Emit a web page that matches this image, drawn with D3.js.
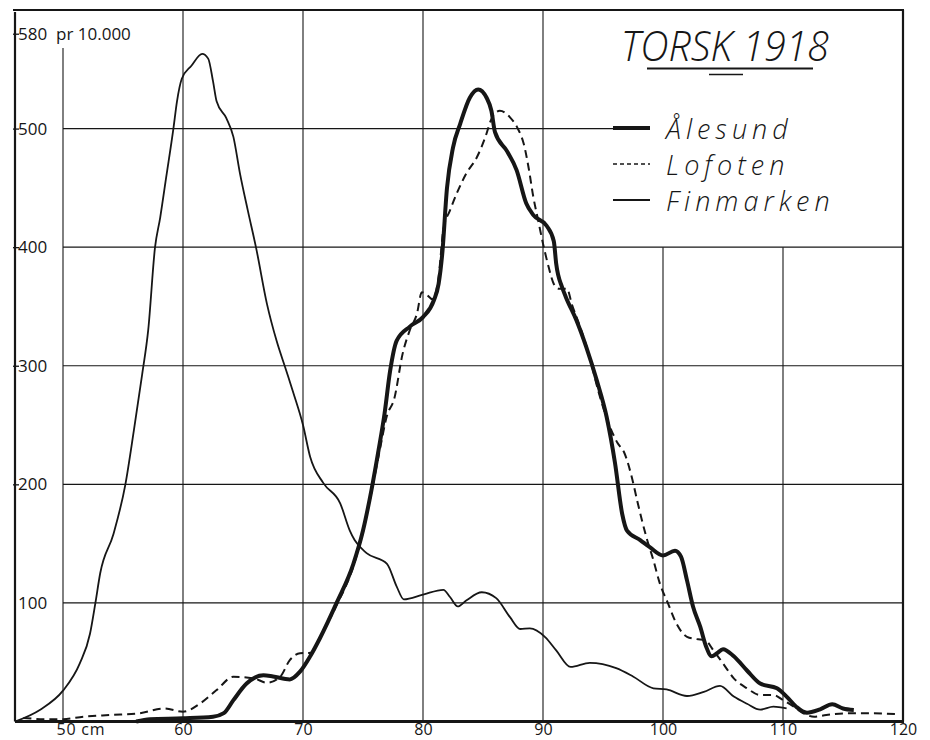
<!DOCTYPE html>
<html>
<head>
<meta charset="utf-8">
<script src="https://cdn.jsdelivr.net/npm/d3@7"></script>
<style>
  body { margin: 0; background: #fff; }
  svg { display: block; }
</style>
</head>
<body>
<div id="chart"></div>
<script>
// length in cm, count pr 10.000 fish
const alesund = [
  [56.1,0],[57.25,2],[60,2.7],[62.5,4],[63.4,7],[64.2,18],[65.3,32],[66.7,39],[67.5,38],[68.9,35.5],
  [69.75,42],[70.6,55],[71.4,70],[72.8,100],[74.2,133],[75.0,161],[75.7,195],[76.3,229],[76.8,260],
  [77.25,295],[77.8,321],[78.9,333],[80.0,341],[80.9,355],[81.3,369],[81.6,394],[82.0,450],[82.5,484],
  [83.1,504],[83.9,526],[84.6,533],[85.3,526],[85.7,515],[86.0,497],[87.0,481],[87.8,465],[88.6,437],
  [89.2,427],[90.3,418],[90.9,405],[91.1,386],[91.6,366],[91.9,358],[92.8,338],[93.6,316],[94.5,287],
  [95.3,257],[96.0,218],[96.6,175],[97.0,161],[98.1,153],[98.9,147],[100.0,140],[101.0,144],[101.5,139],
  [102.0,119],[102.5,97],[103.1,80],[103.6,63],[104.05,55],[104.5,57.5],[105.0,61],[105.9,55],[107.0,43],
  [108.1,32],[109.5,28],[110.3,21],[111.1,12.5],[112.0,7.4],[113.1,10.3],[114.1,14.5],[115.0,11],[115.9,9.7]
];

const lofoten = [
  [46.7,3],[48.4,2],[50,2],[51.7,4],[53.9,5.5],[56.4,7],[58.4,11],[60,8.3],[61.4,15],[62.8,26.5],
  [64.2,37.7],[65.9,36.4],[67.0,32.7],[68.1,37.7],[68.9,51.8],[69.75,57.5],[70.7,58],[71.4,71],[72.8,98],
  [74.2,131],[75.0,160],[75.7,193],[76.4,229],[77.0,258],[77.6,272],[78.3,310],[78.9,330],[79.5,344],
  [79.9,362],[80.3,360],[80.8,356],[81.3,375],[81.7,415],[82.25,431],[82.8,445],[83.6,462],[84.5,476],
  [85.2,493],[85.7,508],[86.4,515],[87.25,509.5],[87.9,500],[88.4,487],[88.8,467],[89.2,442],[89.6,422.5],
  [90.0,403],[90.4,386],[90.9,369],[91.3,365],[92.0,365],[92.4,352],[93.1,332.6],[93.9,307],[94.6,279],
  [95.6,248],[96.2,235],[96.8,226],[97.4,206],[97.9,184],[98.6,156],[99.2,136],[99.75,116],[100.4,100],
  [101.1,83],[102.0,71.4],[102.8,69.5],[103.5,68.7],[104.2,60],[105.0,49],[105.9,36.4],[107.0,28],
  [108.1,22.3],[109.2,22.3],[110.0,18],[110.9,12.5],[111.7,6.9],[112.6,4],[113.6,5.5],[115.3,6.9],
  [117.5,6.9],[119.4,6.3]
];

const finmarken = [
  [46,0],[48.1,10],[50,26],[51.4,49],[52.25,74],[52.7,100],[53.1,125],[54.2,158],[55.2,200],[55.9,245],
  [56.6,293],[57.1,330],[57.67,400],[58.1,425],[58.6,459],[59.2,500],[59.5,523],[59.9,542],[60.7,553],
  [61.6,563],[62.1,559],[62.5,540],[62.8,523],[63.6,509],[64.2,493],[64.75,462],[65.4,431],[66.1,399],
  [67.0,352],[67.8,321],[68.6,296],[69.2,277],[70.0,250],[70.6,223],[71.7,201],[73.1,184],[73.9,161],
  [74.3,153],[75.3,142],[77.0,133],[77.8,114],[78.4,103],[80.0,107],[81.7,111],[82.25,105],[82.9,97],
  [83.6,102],[84.9,109],[86.1,104],[87.25,88],[88.1,78],[88.9,78.5],[90.2,71],[91.1,60],[92.3,46],
  [93.9,49.5],[96.1,45],[97.5,38],[99.2,28],[100.3,27],[102.0,21.5],[103.4,25],[104.75,30],[105.9,21],
  [107.0,15],[108.1,10],[109.2,12.5],[110.3,11]
];

const xTicks = [50, 60, 70, 80, 90, 100, 110, 120];
const yTicks = [100, 200, 300, 400, 500, 580];
const legendNames = ["Ålesund", "Lofoten", "Finmarken"];
const title = "TORSK 1918";

const width = 930, height = 740;
const ink = "#161616";
const handFont = "'Open Sans', sans-serif";

const x = d3.scaleLinear().domain([46, 120]).range([15, 903]);
const y = d3.scaleLinear().domain([0, 600]).range([721.5, 10]);

const svg = d3.select("#chart").append("svg")
    .attr("width", width)
    .attr("height", height)
    .style("background", "#fff");

// grid - the legend box on the upper right is kept clear
const grid = svg.append("g").attr("stroke", ink).attr("stroke-width", 1.1);

grid.selectAll("line.v")
    .data(xTicks.filter(d => d < 120))
    .enter().append("line")
    .attr("class", "v")
    .attr("x1", d => x(d)).attr("x2", d => x(d))
    .attr("y1", d => d === 50 ? 48 : (d >= 100 ? y(400) : y(600)))
    .attr("y2", y(0));

grid.selectAll("line.h")
    .data(yTicks.filter(d => d <= 500))
    .enter().append("line")
    .attr("class", "h")
    .attr("x1", x(50))
    .attr("x2", d => d === 500 ? x(98.1) : x(120))
    .attr("y1", d => y(d)).attr("y2", d => y(d));

// frame
const frame = svg.append("g").attr("stroke", ink).attr("fill", "none");
frame.append("line").attr("x1", x(46)).attr("x2", x(46)).attr("y1", y(600) + 2).attr("y2", y(0)).attr("stroke-width", 2.2);
frame.append("line").attr("x1", x(46) - 2).attr("x2", x(120) + 1).attr("y1", y(600)).attr("y2", y(600)).attr("stroke-width", 2);
frame.append("line").attr("x1", x(120)).attr("x2", x(120)).attr("y1", y(600)).attr("y2", y(0)).attr("stroke-width", 2.2);
frame.append("line").attr("x1", x(46)).attr("x2", x(120) + 1).attr("y1", y(0)).attr("y2", y(0)).attr("stroke-width", 3);

// axes (labels only, lines drawn above)
const xAxis = svg.append("g")
    .attr("transform", `translate(0,${y(0)})`)
    .call(d3.axisBottom(x).tickValues(xTicks).tickSize(0)
        .tickFormat(d => d === 50 ? "50 cm" : d));
xAxis.select(".domain").remove();
xAxis.selectAll("text")
    .style("font-family", "'Open Sans', sans-serif")
    .style("font-size", "16px")
    .attr("fill", ink)
    .attr("y", 13.5)
    .attr("dy", 0);
xAxis.selectAll(".tick").filter(d => d === 50).select("text")
    .attr("text-anchor", "start").attr("x", -7)
    .style("letter-spacing", "0.8px");

const yAxis = svg.append("g")
    .attr("transform", `translate(${x(46)},0)`)
    .call(d3.axisRight(y).tickValues(yTicks).tickSize(4)
        .tickFormat(d => d === 580 ? "580  pr 10.000" : d));
yAxis.select(".domain").remove();
yAxis.selectAll(".tick line").attr("stroke", ink).attr("stroke-width", 1.3).attr("x1", -2);
yAxis.selectAll(".tick").filter(d => d === 100).select("line").remove();
yAxis.selectAll("text")
    .style("font-family", "'Open Sans', sans-serif")
    .style("font-size", "17px")
    .style("white-space", "pre")
    .attr("fill", ink)
    .attr("x", 3);

// curves
const line = d3.line()
    .x(d => x(d[0]))
    .y(d => y(d[1]))
    .curve(d3.curveMonotoneX);

svg.append("path").datum(finmarken)
    .attr("d", line).attr("fill", "none")
    .attr("stroke", ink).attr("stroke-width", 1.8);

svg.append("path").datum(lofoten)
    .attr("d", line).attr("fill", "none")
    .attr("stroke", ink).attr("stroke-width", 2)
    .attr("stroke-dasharray", "8,5");

svg.append("path").datum(alesund)
    .attr("d", line).attr("fill", "none")
    .attr("stroke", ink).attr("stroke-width", 4)
    .attr("stroke-linejoin", "round");

// title
svg.append("text")
    .attr("x", 621).attr("y", 61)
    .attr("textLength", 208).attr("lengthAdjust", "spacingAndGlyphs")
    .style("font-family", handFont)
    .style("font-style", "italic")
    .style("font-weight", 300)
    .style("font-size", "43px")
    .attr("fill", ink)
    .text(title);
svg.append("line").attr("x1", 647).attr("x2", 813).attr("y1", 68.5).attr("y2", 68.5)
    .attr("stroke", ink).attr("stroke-width", 2);
svg.append("line").attr("x1", 709).attr("x2", 743).attr("y1", 74.5).attr("y2", 74.5)
    .attr("stroke", ink).attr("stroke-width", 1.6);

// legend
const legend = svg.append("g").attr("transform", "translate(613,128)");
const legendRows = legend.selectAll("g")
    .data(legendNames)
    .enter().append("g")
    .attr("transform", (d, i) => `translate(0,${i * 36})`);

legendRows.append("line")
    .attr("x1", 0).attr("x2", 37).attr("y1", 0).attr("y2", 0)
    .attr("stroke", ink)
    .attr("stroke-width", (d, i) => [4, 1.6, 2][i])
    .attr("stroke-dasharray", (d, i) => i === 1 ? "4,3" : null);

legendRows.append("text")
    .attr("x", 53).attr("y", 11)
    .style("font-family", handFont)
    .style("font-style", "italic")
    .style("font-weight", 300)
    .style("font-size", "27px")
    .style("letter-spacing", "5px")
    .attr("fill", ink)
    .text(d => d);
</script>
</body>
</html>
